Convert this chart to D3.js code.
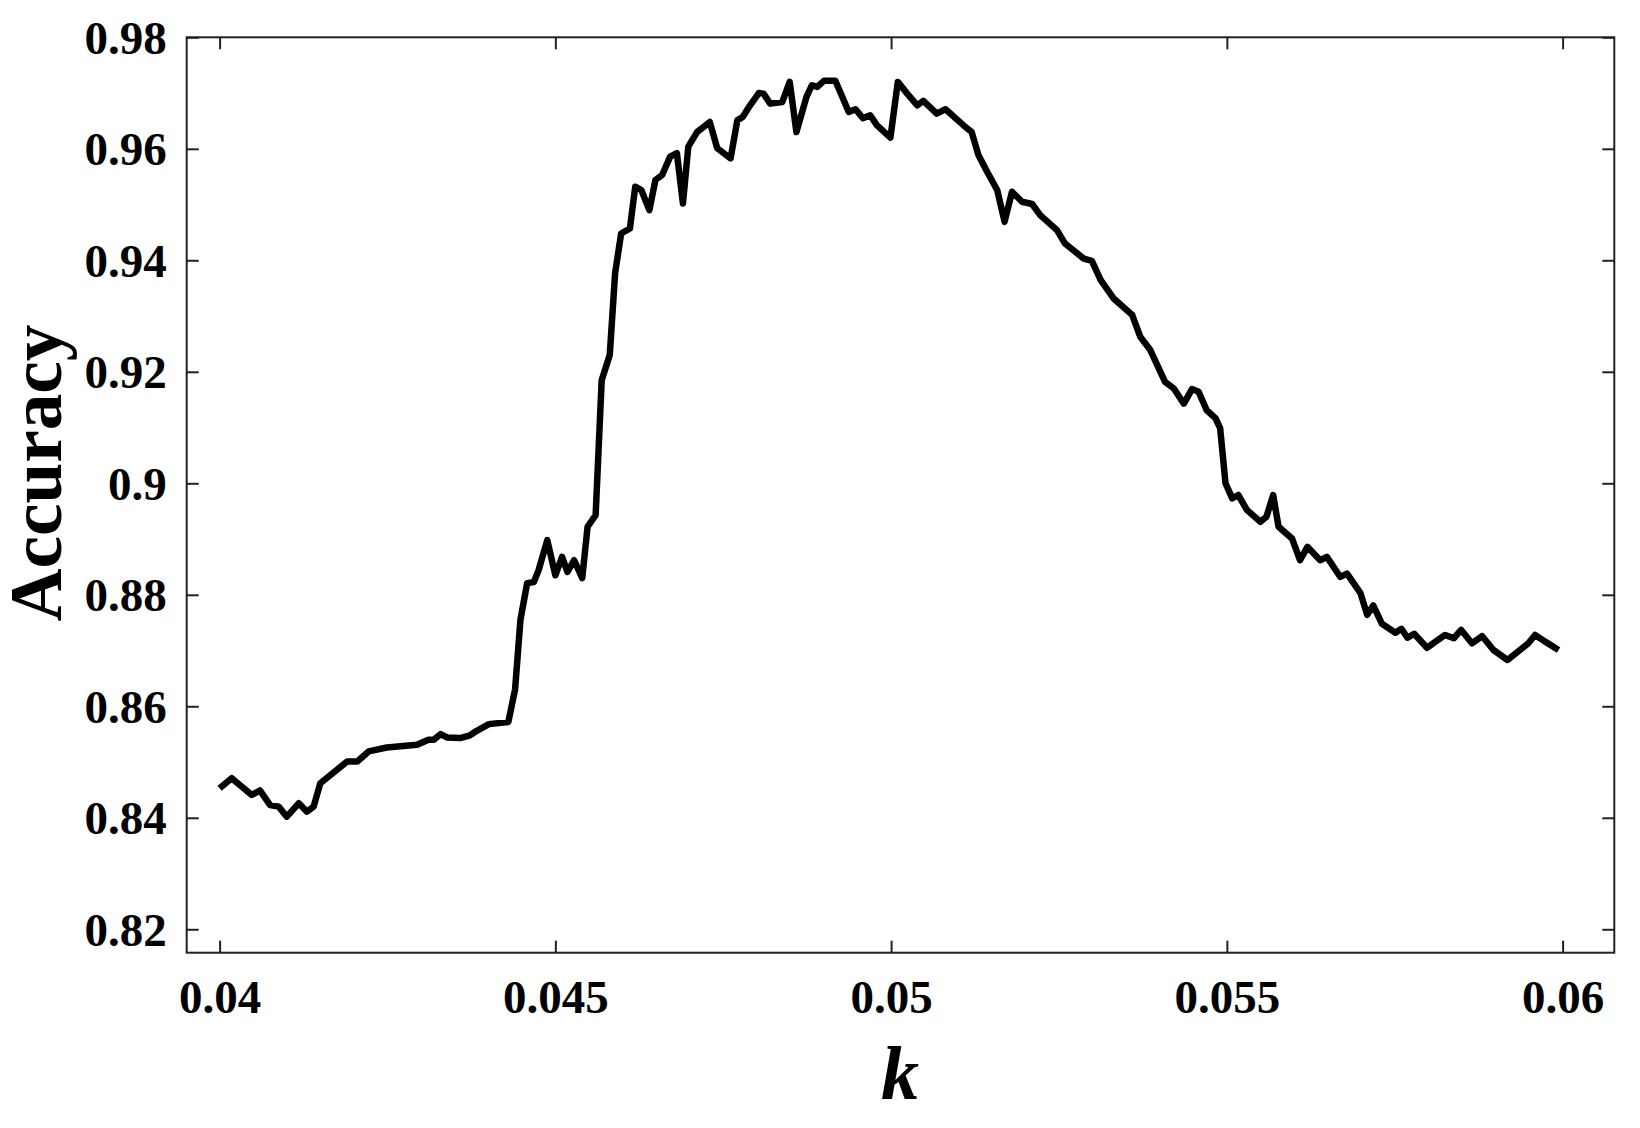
<!DOCTYPE html>
<html lang="en">
<head>
    <meta charset="UTF-8">
    <title>Accuracy vs k</title>
    <script type="text/javascript" src="https://cdn.jsdelivr.net/npm/d3@7"></script>
    <style type="text/css">
        body { margin: 0; background: #fff; }
        text { font-family: "Liberation Serif", "Times New Roman", serif; font-weight: bold; fill: #000; }
    </style>
</head>
<body>
<script type="text/javascript">

    //Width and height
    var w = 1640;
    var h = 1128;

    // plot frame (pixels) - note: "top" is reserved on window, so prefix everything
    var plotLeft = 186.7, plotRight = 1614.3, plotTop = 37.3, plotBottom = 952.7;

    // data
    var kValues = [
        0.04000, 0.04018, 0.04048, 0.04060, 0.04075, 0.04088, 0.04100, 0.04118, 0.04130, 0.04140,
        0.04150, 0.04190, 0.04205, 0.04222, 0.04249, 0.04294, 0.04311, 0.04319, 0.04329, 0.04339,
        0.04358, 0.04373, 0.04383, 0.04401, 0.04430, 0.04440, 0.04448, 0.04458, 0.04468, 0.04475,
        0.04488, 0.04500, 0.04510, 0.04518, 0.04528, 0.04540, 0.04548, 0.04560, 0.04569, 0.04581,
        0.04589, 0.04598, 0.04611, 0.04619, 0.04628, 0.04640, 0.04649, 0.04659, 0.04671, 0.04681,
        0.04690, 0.04698, 0.04711, 0.04730, 0.04741, 0.04761, 0.04771, 0.04779, 0.04790, 0.04803,
        0.04810, 0.04820, 0.04838, 0.04849, 0.04859, 0.04874, 0.04882, 0.04890, 0.04900, 0.04917,
        0.04937, 0.04947, 0.04958, 0.04969, 0.04979, 0.04999, 0.05010, 0.05024, 0.05039, 0.05048,
        0.05068, 0.05081, 0.05108, 0.05120, 0.05130, 0.05143, 0.05158, 0.05169, 0.05180, 0.05195,
        0.05210, 0.05222, 0.05247, 0.05259, 0.05287, 0.05299, 0.05312, 0.05331, 0.05359, 0.05371,
        0.05386, 0.05408, 0.05421, 0.05436, 0.05448, 0.05458, 0.05470, 0.05483, 0.05490, 0.05498,
        0.05508, 0.05517, 0.05530, 0.05550, 0.05559, 0.05569, 0.05577, 0.05597, 0.05609, 0.05620,
        0.05639, 0.05649, 0.05669, 0.05679, 0.05699, 0.05709, 0.05718, 0.05731, 0.05751, 0.05760,
        0.05769, 0.05779, 0.05798, 0.05825, 0.05838, 0.05849, 0.05865, 0.05880, 0.05897, 0.05918,
        0.05949, 0.05959, 0.05974, 0.05994
    ];
    var accuracy = [
        0.8453, 0.8471, 0.8441, 0.8449, 0.8423, 0.8420, 0.8402, 0.8426, 0.8411, 0.8420,
        0.8462, 0.8501, 0.8501, 0.8519, 0.8526, 0.8531, 0.8540, 0.8540, 0.8550, 0.8544,
        0.8543, 0.8548, 0.8556, 0.8568, 0.8572, 0.8630, 0.8755, 0.8821, 0.8823, 0.8844,
        0.8898, 0.8835, 0.8868, 0.8841, 0.8862, 0.8830, 0.8922, 0.8943, 0.9185, 0.9230,
        0.9377, 0.9448, 0.9457, 0.9532, 0.9526, 0.9490, 0.9544, 0.9553, 0.9586, 0.9592,
        0.9502, 0.9604, 0.9630, 0.9648, 0.9601, 0.9583, 0.9651, 0.9657, 0.9678, 0.9700,
        0.9699, 0.9681, 0.9684, 0.9720, 0.9630, 0.9693, 0.9714, 0.9711, 0.9722, 0.9722,
        0.9666, 0.9671, 0.9655, 0.9660, 0.9642, 0.9620, 0.9720, 0.9699, 0.9678, 0.9686,
        0.9663, 0.9671, 0.9642, 0.9630, 0.9589, 0.9559, 0.9526, 0.9469, 0.9523, 0.9505,
        0.9501, 0.9481, 0.9454, 0.9430, 0.9403, 0.9399, 0.9365, 0.9332, 0.9302, 0.9263,
        0.9239, 0.9182, 0.9170, 0.9143, 0.9169, 0.9164, 0.9131, 0.9117, 0.9099, 0.9000,
        0.8973, 0.8979, 0.8952, 0.8931, 0.8940, 0.8979, 0.8922, 0.8901, 0.8862, 0.8886,
        0.8862, 0.8868, 0.8832, 0.8838, 0.8803, 0.8764, 0.8781, 0.8748, 0.8732, 0.8739,
        0.8723, 0.8730, 0.8705, 0.8728, 0.8722, 0.8737, 0.8713, 0.8726, 0.8701, 0.8683,
        0.8713, 0.8728, 0.8716, 0.8701
    ];

    // tick values and labels
    var xTicks = [0.04, 0.045, 0.05, 0.055, 0.06];
    var xTickLabels = ["0.04", "0.045", "0.05", "0.055", "0.06"];
    var yTicks = [0.82, 0.84, 0.86, 0.88, 0.90, 0.92, 0.94, 0.96, 0.98];
    var yTickLabels = ["0.82", "0.84", "0.86", "0.88", "0.9", "0.92", "0.94", "0.96", "0.98"];

    var points = kValues.map(function(k, i) { return [k, accuracy[i]]; });

    //Create SVG element
    var svg = d3.select("body")
        .append("svg")
        .attr("width", w)
        .attr("height", h);

    svg.append("rect")
        .attr("width", w)
        .attr("height", h)
        .attr("fill", "white");

    var x = d3.scaleLinear().domain([0.03951, 0.06077]).range([plotLeft, plotRight]);
    var y = d3.scaleLinear().domain([0.8158, 0.98]).range([plotBottom, plotTop]);

    var tickLen = 12;

    function styleAxis(g) {
        g.select(".domain").remove();
        g.selectAll(".tick line").attr("stroke", "#222").attr("stroke-width", 2);
    }

    // bottom axis with labels, ticks pointing inward
    svg.append("g")
        .attr("transform", "translate(0," + plotBottom + ")")
        .call(d3.axisBottom(x).tickValues(xTicks).tickSizeInner(-tickLen).tickSizeOuter(0)
            .tickFormat(function(d, i) { return xTickLabels[i]; }))
        .call(styleAxis)
        .call(function(g) {
            g.selectAll(".tick text")
                .attr("y", 60).attr("dy", 0)
                .attr("font-size", 47).attr("font-family", null).attr("fill", "#000");
        });

    // top axis, ticks only
    svg.append("g")
        .attr("transform", "translate(0," + plotTop + ")")
        .call(d3.axisTop(x).tickValues(xTicks).tickSizeInner(-tickLen).tickSizeOuter(0).tickFormat(""))
        .call(styleAxis);

    // left axis with labels
    svg.append("g")
        .attr("transform", "translate(" + plotLeft + ",0)")
        .call(d3.axisLeft(y).tickValues(yTicks).tickSizeInner(-tickLen).tickSizeOuter(0)
            .tickFormat(function(d, i) { return yTickLabels[i]; }))
        .call(styleAxis)
        .call(function(g) {
            g.selectAll(".tick text")
                .attr("x", -20).attr("dy", "0.34em")
                .attr("font-size", 47).attr("font-family", null).attr("fill", "#000");
        });

    // right axis, ticks only
    svg.append("g")
        .attr("transform", "translate(" + plotRight + ",0)")
        .call(d3.axisRight(y).tickValues(yTicks).tickSizeInner(-tickLen).tickSizeOuter(0).tickFormat(""))
        .call(styleAxis);

    // frame
    svg.append("rect")
        .attr("x", plotLeft)
        .attr("y", plotTop)
        .attr("width", plotRight - plotLeft)
        .attr("height", plotBottom - plotTop)
        .attr("fill", "none")
        .attr("stroke", "#222")
        .attr("stroke-width", 2);

    // the curve
    var line = d3.line()
        .x(function(d) { return x(d[0]); })
        .y(function(d) { return y(d[1]); });

    svg.append("path")
        .datum(points)
        .attr("d", line)
        .attr("fill", "none")
        .attr("stroke", "#000")
        .attr("stroke-width", 6.5)
        .attr("stroke-linejoin", "round")
        .attr("stroke-linecap", "butt");

    // axis titles
    svg.append("text")
        .text("Accuracy")
        .attr("transform", "translate(61,473) rotate(-90)")
        .attr("text-anchor", "middle")
        .attr("font-size", 73)
        .attr("textLength", 297)
        .attr("lengthAdjust", "spacingAndGlyphs");

    svg.append("text")
        .text("k")
        .attr("x", 900)
        .attr("y", 1099)
        .attr("text-anchor", "middle")
        .attr("font-size", 76)
        .attr("font-style", "italic");
</script>
</body>
</html>
